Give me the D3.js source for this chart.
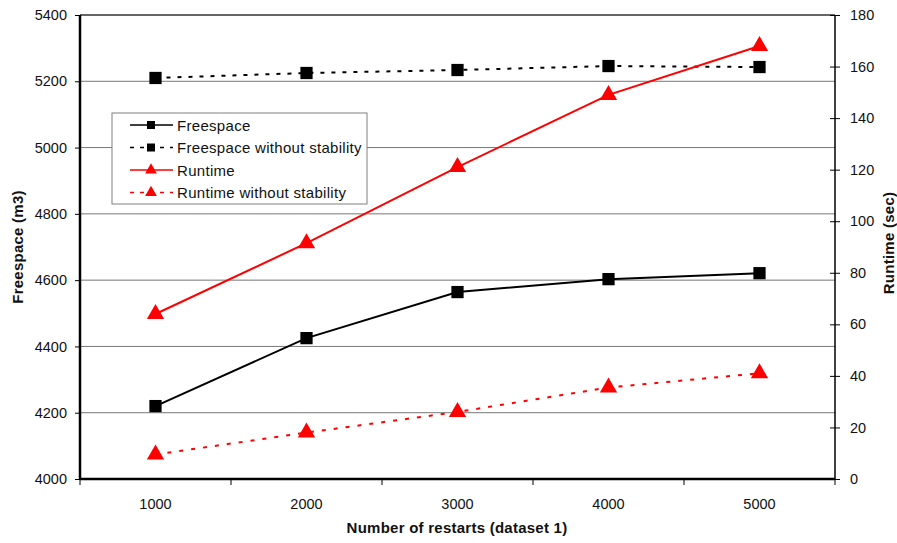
<!DOCTYPE html>
<html>
<head>
<meta charset="utf-8">
<script src="https://cdn.jsdelivr.net/npm/d3@7.9.0/dist/d3.min.js"></script>
<style>
  body { margin: 0; background: #fff; }
  text { font-family: "Liberation Sans", Arial, sans-serif; }
</style>
</head>
<body>
<svg id="chart" width="897" height="543"></svg>
<script>
// data
const restarts = ["1000", "2000", "3000", "4000", "5000"];
const freespace = [4220, 4425, 4564, 4603, 4621];
const freespaceNoStab = [5210, 5225, 5234, 5246, 5243];
const runtime = [64, 91.5, 121, 149, 168];
const runtimeNoStab = [9.5, 18, 26, 35.5, 41];
const leftTicks = [4000, 4200, 4400, 4600, 4800, 5000, 5200, 5400];
const rightTicks = [0, 20, 40, 60, 80, 100, 120, 140, 160, 180];

const svg = d3.select('#chart');
const plotL = 80, plotR = 835, plotT = 15, plotB = 479;

const x = d3.scaleBand().domain(restarts).range([plotL, plotR]);
const yL = d3.scaleLinear().domain([4000, 5400]).range([plotB, plotT]);
const yR = d3.scaleLinear().domain([0, 180]).range([plotB, plotT]);

// gridlines
svg.append('g').selectAll('line')
    .data(leftTicks.slice(1, -1))
    .join('line')
    .attr('x1', plotL).attr('x2', plotR)
    .attr('y1', d => yL(d)).attr('y2', d => yL(d))
    .attr('stroke', '#777').attr('stroke-width', 1);

// top border
svg.append('line')
    .attr('x1', plotL).attr('x2', plotR).attr('y1', plotT).attr('y2', plotT)
    .attr('stroke', '#333').attr('stroke-width', 1.5);

// left axis
const gL = svg.append('g').attr('transform', `translate(${plotL},0)`)
    .call(d3.axisLeft(yL).tickValues(leftTicks).tickFormat(d3.format('d')).tickSize(5).tickPadding(8));
gL.select('.domain').attr('stroke-width', 2.5).attr('d', `M0,${plotT}V${plotB}`);
gL.selectAll('text').attr('font-size', 14.5).attr('fill', '#111');

// right axis
const gR = svg.append('g').attr('transform', `translate(${plotR},0)`)
    .call(d3.axisRight(yR).tickValues(rightTicks).tickSize(5).tickPadding(10));
gR.select('.domain').attr('stroke-width', 1.5).attr('d', `M0,${plotT}V${plotB}`);
gR.selectAll('.tick line').attr('x1', -5);
gR.selectAll('text').attr('font-size', 14.5).attr('fill', '#111');

// bottom axis (ticks at band boundaries)
svg.append('g').selectAll('line')
    .data(restarts.map(d => x(d)).concat([plotR]))
    .join('line')
    .attr('x1', d => d).attr('x2', d => d)
    .attr('y1', plotB).attr('y2', plotB + 6)
    .attr('stroke', '#000');
svg.append('line')
    .attr('x1', plotL).attr('x2', plotR).attr('y1', plotB).attr('y2', plotB)
    .attr('stroke', '#000').attr('stroke-width', 2.5);
svg.append('g').selectAll('text')
    .data(restarts)
    .join('text')
    .attr('x', d => x(d) + x.bandwidth() / 2)
    .attr('y', 509)
    .attr('text-anchor', 'middle')
    .attr('font-size', 14.5).attr('fill', '#111')
    .text(d => d);

// axis titles
const titleStyle = t => t.attr('text-anchor', 'middle').attr('font-size', 15)
    .attr('font-weight', 'bold').attr('letter-spacing', 0.25).attr('fill', '#111');
svg.append('text')
    .attr('transform', `translate(23,${(plotT + plotB) / 2}) rotate(-90)`)
    .call(titleStyle)
    .text('Freespace (m3)');
svg.append('text')
    .attr('transform', `translate(894,243) rotate(-90)`)
    .call(titleStyle)
    .text('Runtime (sec)');
svg.append('text')
    .attr('x', 457).attr('y', 533)
    .call(titleStyle)
    .text('Number of restarts (dataset 1)');

const cx = d => x(d) + x.bandwidth() / 2;
const square = d3.symbol().type(d3.symbolSquare).size(150);
const tri = d3.symbol().type(d3.symbolTriangle).size(130);

const series = [
    { name: 'Freespace', values: freespace, y: yL, color: '#000', dash: null, sym: square },
    { name: 'Freespace without stability', values: freespaceNoStab, y: yL, color: '#000', dash: '4,7', sym: square },
    { name: 'Runtime', values: runtime, y: yR, color: '#ff0000', dash: null, sym: tri },
    { name: 'Runtime without stability', values: runtimeNoStab, y: yR, color: '#ff0000', dash: '4,8', sym: tri }
];

series.forEach(s => {
    const pts = restarts.map((r, i) => [cx(r), s.y(s.values[i])]);
    svg.append('path')
        .attr('d', d3.line()(pts))
        .attr('fill', 'none')
        .attr('stroke', s.color)
        .attr('stroke-width', 2)
        .attr('stroke-dasharray', s.dash);
    svg.append('g').selectAll('path')
        .data(pts)
        .join('path')
        .attr('transform', d => `translate(${d[0]},${d[1]})`)
        .attr('d', s.sym)
        .attr('fill', s.color);
});

// legend
const lg = svg.append('g');
lg.append('rect')
    .attr('x', 112).attr('y', 113).attr('width', 255).attr('height', 91)
    .attr('fill', '#fff').attr('stroke', '#808080').attr('stroke-width', 1);
const legSym = [d3.symbol().type(d3.symbolSquare).size(64), d3.symbol().type(d3.symbolSquare).size(64),
    d3.symbol().type(d3.symbolTriangle).size(60), d3.symbol().type(d3.symbolTriangle).size(60)];
series.forEach((s, i) => {
    const ly = 125 + i * 22.5;
    lg.append('line')
        .attr('x1', 130).attr('x2', 173).attr('y1', ly).attr('y2', ly)
        .attr('stroke', s.color).attr('stroke-width', 1.5)
        .attr('stroke-dasharray', s.dash ? '4,6' : null);
    lg.append('path')
        .attr('transform', `translate(151,${ly})`)
        .attr('d', legSym[i])
        .attr('fill', s.color);
    lg.append('text')
        .attr('x', 177).attr('y', ly + 5.5)
        .attr('font-size', 15).attr('letter-spacing', 0.3).attr('fill', '#111')
        .text(s.name);
});
</script>
</body>
</html>
